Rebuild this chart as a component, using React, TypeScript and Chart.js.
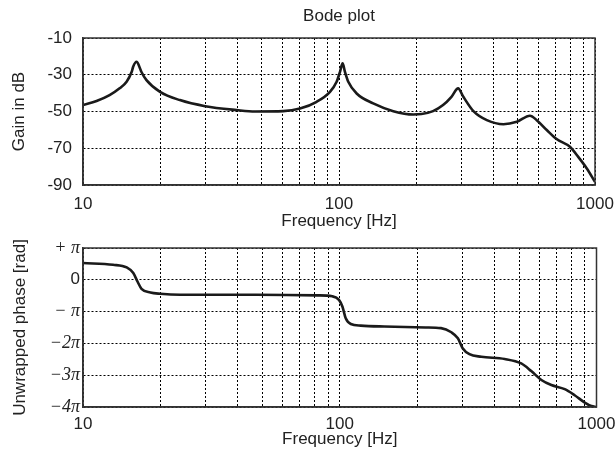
import React, { useEffect, useRef } from 'react';
import { Chart, registerables } from 'chart.js';
Chart.register(...registerables);

// ---- data ----
const GAIN_FREQ = [10.0, 11.3, 12.7, 13.9, 14.8, 15.5, 15.7, 16.2, 16.6, 16.9, 17.7, 20, 23.9, 30, 39.8, 47, 60.6, 70.4, 81.8, 92.2, 97.9, 100.9, 103.3, 105.5, 108.7, 117.2, 136, 163, 195, 210, 233, 255, 275, 292, 306, 335, 378, 439, 495, 557, 592, 648, 708, 798, 860, 929, 1000];
const GAIN_DB = [-46.5, -44.3, -41.1, -37.4, -33.8, -28.4, -25.6, -22.9, -25.6, -28.4, -32.9, -39.3, -43.8, -47.1, -49.2, -50.0, -49.8, -48.4, -44.7, -39.3, -33.8, -28.4, -23.8, -28.4, -33.8, -40.2, -45.6, -49.8, -51.6, -51.4, -49.8, -46.5, -42.0, -37.4, -42.0, -49.8, -54.7, -56.9, -55.6, -52.3, -54.7, -60.1, -65.0, -69.2, -74.7, -81.0, -88.3];

const PHASE_FREQ = [10.0, 13.1, 14.8, 15.7, 16.3, 16.9, 18.3, 20, 23.9, 47, 81.8, 93.5, 99.3, 102.4, 105.5, 110.4, 120.8, 149, 216, 248, 272, 288.5, 301, 320, 356, 439, 509, 557, 610, 667, 752, 822, 900, 955, 1000];
// phase in multiples of pi
const PHASE_PI = [0.527, 0.473, 0.388, 0.211, -0.054, -0.284, -0.40, -0.44, -0.47, -0.47, -0.49, -0.52, -0.63, -0.84, -1.21, -1.39, -1.44, -1.47, -1.50, -1.52, -1.65, -1.84, -2.15, -2.34, -2.42, -2.49, -2.63, -2.87, -3.15, -3.31, -3.44, -3.63, -3.86, -3.97, -4.0];

const FREQ_GRID = [10, 20, 30, 40, 50, 60, 70, 80, 90, 100, 200, 300, 400, 500, 600, 700, 800, 900, 1000];
const FREQ_LABELS = [10, 100, 1000];
const GAIN_TICKS = [-90, -70, -50, -30, -10];
const PHASE_TICKS = [-4, -3, -2, -1, 0, 1];
const PHASE_TICK_TEXT = ['\u22124\u03c0', '\u22123\u03c0', '\u22122\u03c0', '\u2212 \u03c0', '0', '+ \u03c0'];

const SANS = "'Liberation Sans', Arial, Helvetica, sans-serif";
const SERIF = "'Liberation Serif', 'Times New Roman', serif";
const TEXT = '#222';
const LINE = '#1a1a1a';

const framePlugin = {
  id: 'frame',
  afterDraw(chart: any) {
    const { ctx, chartArea: a } = chart;
    ctx.save();
    ctx.strokeStyle = '#333';
    ctx.lineWidth = 1.5;
    ctx.strokeRect(a.left, a.top, a.right - a.left, a.bottom - a.top);
    ctx.restore();
  },
};

function xAxis(height: number, tickPad: number, titlePadBottom: number) {
  return {
    type: 'logarithmic',
    min: 10,
    max: 1000,
    afterBuildTicks: (scale: any) => {
      scale.ticks = FREQ_GRID.map((v) => ({ value: v }));
    },
    afterFit: (scale: any) => {
      scale.height = height;
      scale.paddingLeft = 0;
      scale.paddingRight = 0;
    },
    ticks: {
      autoSkip: false,
      maxRotation: 0,
      padding: tickPad,
      color: TEXT,
      font: { family: SANS, size: 17 },
      callback: (v: any) => (FREQ_LABELS.includes(Number(v)) ? String(v) : ''),
    },
    grid: { color: '#000', lineWidth: 1, drawTicks: false },
    border: { display: true, color: '#333', width: 1.5, dash: [2, 2] },
    title: {
      display: true,
      text: 'Frequency [Hz]',
      color: TEXT,
      font: { family: SANS, size: 17 },
      padding: { top: 0, bottom: titlePadBottom },
    },
  };
}

function lineDataset(xs: number[], ys: number[]) {
  return {
    data: xs.map((x, i) => ({ x, y: ys[i] })),
    borderColor: LINE,
    borderWidth: 2.6,
    pointRadius: 0,
    fill: false,
    cubicInterpolationMode: 'monotone',
  };
}

export default function App() {
  const topRef = useRef<HTMLCanvasElement>(null);
  const botRef = useRef<HTMLCanvasElement>(null);

  useEffect(() => {
    const top = new Chart(topRef.current as HTMLCanvasElement, {
      type: 'line',
      data: { datasets: [lineDataset(GAIN_FREQ, GAIN_DB) as any] },
      options: {
        responsive: false,
        animation: false,
        devicePixelRatio: 1,
        layout: { autoPadding: false, padding: { left: 0, right: 21, top: 0, bottom: 0 } },
        plugins: {
          legend: { display: false },
          tooltip: { enabled: false },
          title: {
            display: true,
            text: 'Bode plot',
            fullSize: false,
            color: TEXT,
            font: { family: SANS, size: 17, weight: 'normal' },
            padding: { top: 6.5, bottom: 11.1 },
          },
        },
        scales: {
          x: xAxis(47, 9, 0) as any,
          y: {
            min: -90,
            max: -10,
            afterBuildTicks: (scale: any) => {
              scale.ticks = GAIN_TICKS.map((v) => ({ value: v }));
            },
            afterFit: (scale: any) => {
              scale.width = 83;
            },
            ticks: {
              padding: 11,
              color: TEXT,
              font: { family: SANS, size: 17 },
              callback: (v: any) => String(v),
            },
            grid: { color: '#000', lineWidth: 1, drawTicks: false },
            border: { display: true, color: '#333', width: 1.5, dash: [2, 2] },
            title: {
              display: true,
              text: 'Gain in dB',
              color: TEXT,
              font: { family: SANS, size: 17 },
              padding: { top: 9, bottom: 0 },
            },
          },
        },
      },
      plugins: [framePlugin],
    } as any);

    const bot = new Chart(botRef.current as HTMLCanvasElement, {
      type: 'line',
      data: { datasets: [lineDataset(PHASE_FREQ, PHASE_PI) as any] },
      options: {
        responsive: false,
        animation: false,
        devicePixelRatio: 1,
        layout: { autoPadding: false, padding: { left: 0, right: 19.5, top: 16, bottom: 0 } },
        plugins: {
          legend: { display: false },
          tooltip: { enabled: false },
          title: { display: false },
        },
        scales: {
          x: xAxis(44, 7, 1) as any,
          y: {
            min: -4,
            max: 1,
            afterBuildTicks: (scale: any) => {
              scale.ticks = PHASE_TICKS.map((v) => ({ value: v }));
            },
            afterFit: (scale: any) => {
              scale.width = 83;
            },
            ticks: {
              padding: 3,
              color: TEXT,
              font: (c: any) =>
                c.tick && c.tick.value === 0
                  ? { family: SANS, size: 17 }
                  : { family: SERIF, size: 18, style: 'italic' },
              callback: (v: any) => {
                const i = PHASE_TICKS.indexOf(Number(v));
                return i >= 0 ? PHASE_TICK_TEXT[i] : '';
              },
            },
            grid: { color: '#000', lineWidth: 1, drawTicks: false },
            border: { display: true, color: '#333', width: 1.5, dash: [2, 2] },
            title: {
              display: true,
              text: 'Unwrapped phase [rad]',
              color: TEXT,
              font: { family: SANS, size: 17 },
              padding: { top: 10, bottom: 0 },
            },
          },
        },
      },
      plugins: [framePlugin],
    } as any);

    return () => {
      top.destroy();
      bot.destroy();
    };
  }, []);

  return (
    <div style={{ position: 'absolute', left: 0, top: 0, width: 616, height: 451, background: '#fff' }}>
      <canvas ref={topRef} width={616} height={232} style={{ position: 'absolute', left: 0, top: 0, width: 616, height: 232 }} />
      <canvas ref={botRef} width={616} height={219} style={{ position: 'absolute', left: 0, top: 232, width: 616, height: 219 }} />
    </div>
  );
}
